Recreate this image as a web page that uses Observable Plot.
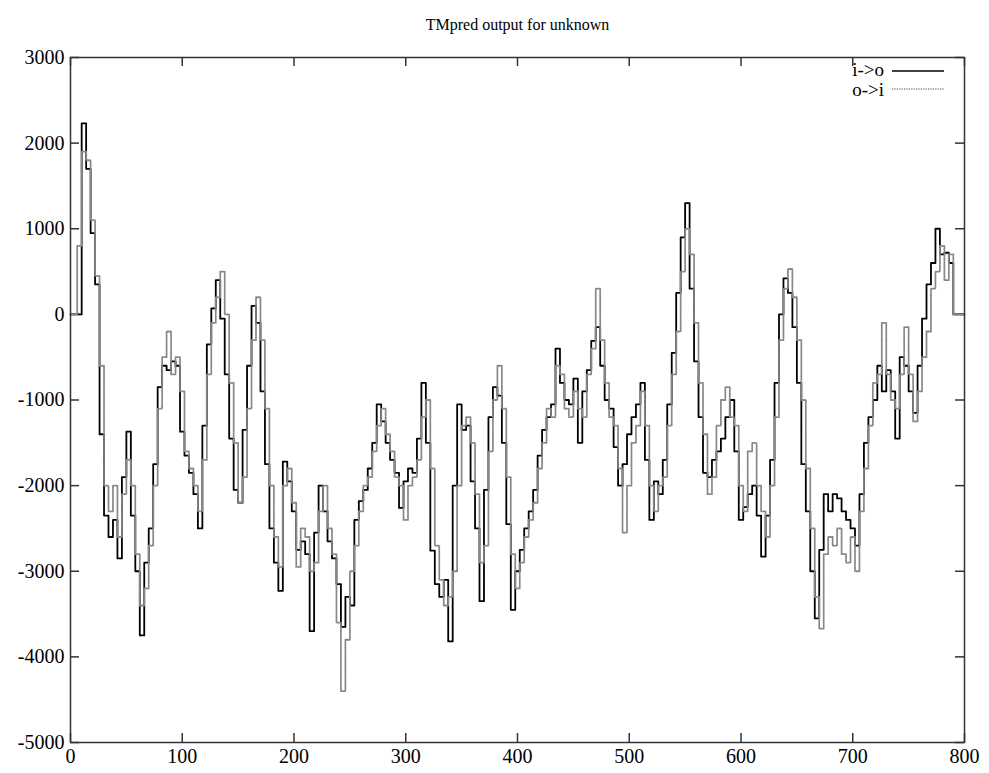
<!DOCTYPE html>
<html>
<head>
<meta charset="utf-8">
<script src="https://cdn.jsdelivr.net/npm/d3@7"></script>
<script src="https://cdn.jsdelivr.net/npm/@observablehq/plot@0.6"></script>
<style>
  html, body { margin: 0; padding: 0; background: #fff; }
  #wrap { position: relative; width: 989px; height: 773px; font-family: "Liberation Serif", "DejaVu Serif", serif; }
  #legend { position: absolute; left: 800px; top: 60px; width: 160px; font-size: 19px; color: #000; }
  .row { position: relative; height: 20px; }
  .row span { position: absolute; right: 76px; top: 0; line-height: 19px; }
  .row svg { position: absolute; left: 92px; top: 0; }
</style>
</head>
<body>
<div id="wrap"><div id="chart"></div>
  <div id="legend">
    <div class="row"><span>i-&gt;o</span><svg width="54" height="20"><line x1="0" y1="11" x2="52" y2="11" stroke="#000" stroke-width="1.6"/></svg></div>
    <div class="row"><span>o-&gt;i</span><svg width="54" height="20"><line x1="0" y1="9" x2="52" y2="9" stroke="#888" stroke-width="1.6" stroke-dasharray="1.2,1.2"/></svg></div>
  </div>
</div>
<script>
const title = "TMpred output for unknown";
const seriesNames = ["i->o", "o->i"];
const xTicks = [0, 100, 200, 300, 400, 500, 600, 700, 800];
const yTicks = [-5000, -4000, -3000, -2000, -1000, 0, 1000, 2000, 3000];

// residue positions (every 4 residues)
const residue = d3.range(0, 801, 4);

// i->o score
const ioScore = [
  0, 0, 0, 2230, 1700, 950, 350, -1400, -2350, -2600,
  -2400, -2850, -1900, -1370, -2350, -3000, -3750, -2900, -2500, -1750,
  -850, -600, -650, -550, -600, -1370, -1650, -1850, -2100, -2500,
  -1300, -350, 70, 400, -50, -700, -1450, -2050, -2200, -1350,
  -600, 100, -100, -900, -1750, -2500, -2900, -3230, -1720, -1950,
  -2300, -2750, -2650, -2800, -3700, -2550, -2000, -2300, -2650, -2850,
  -3150, -3650, -3300, -3400, -2400, -2180, -2050, -1800, -1500, -1050,
  -1250, -1500, -1700, -1850, -2260, -1950, -1800, -1850, -1450, -800,
  -1500, -2760, -3150, -3300, -3100, -3820, -2000, -1050, -1350, -1300,
  -1950, -2500, -3350, -2050, -1200, -850, -950, -1500, -2450, -3450,
  -3000, -2750, -2500, -2300, -2050, -1650, -1350, -1200, -1050, -400,
  -800, -1000, -1050, -750, -1500, -900, -650, -310, -150, -600,
  -1000, -1100, -1550, -2000, -1750, -1400, -1200, -1050, -800, -1700,
  -2400, -1950, -2100, -1700, -1050, -450, 250, 900, 1300, 300,
  -550, -1200, -1850, -1900, -1700, -1600, -1450, -1200, -1000, -1600,
  -2400, -2250, -2100, -2000, -2350, -2830, -2350, -1700, -800, 0,
  420, 250, -150, -800, -1750, -2300, -3000, -3550, -2750, -2100,
  -2300, -2100, -2150, -2300, -2400, -2500, -2700, -2100, -1500, -1200,
  -1000, -600, -900, -650, -900, -1450, -500, -600, -900, -1150,
  -600, -50, 350, 600, 1000, 700, 720, 600, 0, 0,
  0
];

// o->i score
const oiScore = [
  0, 0, 800, 1900, 1800, 1100, 450, -600, -2000, -2300,
  -2000, -2600, -2100, -1700, -2000, -2800, -3400, -3200, -2700, -2000,
  -1100, -500, -200, -700, -500, -900, -1600, -1800, -2000, -2300,
  -1700, -700, -100, 200, 500, 0, -800, -1500, -2200, -1900,
  -1100, -300, 200, -300, -1100, -2000, -2600, -2950, -2000, -1800,
  -2200, -2950, -2500, -2600, -3000, -2900, -2300, -2000, -2500, -2800,
  -3600, -4400, -3800, -3000, -2700, -2300, -2000, -1900, -1600, -1300,
  -1100, -1400, -1600, -1900, -2000, -2400, -2000, -1900, -1700, -1200,
  -1000, -1800, -2700, -3100, -3400, -3300, -3000, -2000, -1300, -1200,
  -1500, -2100, -2900, -2700, -1600, -1000, -600, -1100, -1900, -2800,
  -3200, -2900, -2600, -2400, -2200, -1800, -1500, -1100, -1200, -600,
  -700, -1100, -1200, -900, -1100, -1200, -700, -400, 300, -300,
  -800, -1200, -1300, -1800, -2550, -2000, -1500, -1300, -900, -1300,
  -2000, -2300, -2000, -1900, -1300, -700, -200, 500, 1000, 700,
  -100, -800, -1400, -2100, -1900, -1300, -1000, -850, -1200, -1300,
  -2000, -2300, -1600, -1500, -2000, -2300, -2600, -2000, -1200, -300,
  300, 530, 200, -300, -1000, -1800, -2500, -3300, -3670, -2800,
  -2600, -2700, -2500, -2800, -2900, -2600, -3000, -2300, -1800, -1300,
  -800, -700, -100, -700, -1000, -1100, -700, -150, -700, -1250,
  -900, -500, -200, 300, 500, 800, 400, 700, 0, 0,
  0
];

const io = residue.map((r, i) => ({r, v: ioScore[i]}));
const oi = residue.map((r, i) => ({r, v: oiScore[i]}));

const W = 989, H = 773;
const mt = 57, mb = 31, ml = 70, mr = 25;
const fw = W - ml - mr, fh = H - mt - mb;
const tick = 9;

const chart = Plot.plot({
  width: W,
  height: H,
  marginTop: mt,
  marginBottom: mb,
  marginLeft: ml,
  marginRight: mr,
  style: {fontFamily: "'Liberation Serif', 'DejaVu Serif', serif", background: "#fff", color: "#000"},
  x: {domain: [0, 800], ticks: xTicks},
  y: {domain: [-5000, 3000], ticks: yTicks},
  marks: [
    Plot.axisX(xTicks, {tickSize: 0, tickPadding: 6, fontSize: 20, label: null, tickFormat: d => String(d)}),
    Plot.axisY(yTicks, {tickSize: 0, tickPadding: 6, fontSize: 20, label: null, tickFormat: d => String(d)}),
    Plot.tickX(xTicks, {x: d => d, insetTop: fh - tick, stroke: "#333", strokeWidth: 1.5}),
    Plot.tickX(xTicks, {x: d => d, insetBottom: fh - tick, stroke: "#333", strokeWidth: 1.5}),
    Plot.tickY(yTicks, {y: d => d, insetRight: fw - tick, stroke: "#333", strokeWidth: 1.5}),
    Plot.tickY(yTicks, {y: d => d, insetLeft: fw - tick, stroke: "#333", strokeWidth: 1.5}),
    Plot.line(io, {x: "r", y: "v", curve: "step", stroke: "#000", strokeWidth: 1.8}),
    Plot.line(oi, {x: "r", y: "v", curve: "step", stroke: "#888", strokeWidth: 1.8, strokeDasharray: "1.2,1.2"}),
    Plot.frame({stroke: "#333", strokeWidth: 1.5}),
    Plot.text([title], {frameAnchor: "top", dy: -39, fontSize: 16, fill: "#000"})
  ]
});
document.getElementById("chart").appendChild(chart);
</script>
</body>
</html>
